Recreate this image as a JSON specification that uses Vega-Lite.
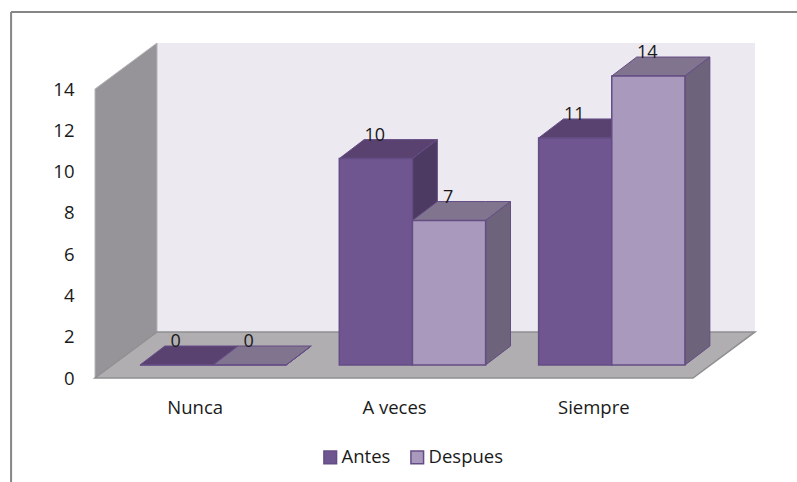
{
"$schema":"https://vega.github.io/schema/vega-lite/v6.json",
"width":660,"height":335,
"autosize":{"type":"none"},
"padding":{"left":95,"top":43,"right":42,"bottom":104},
"background":"white",
"config":{"view":{"stroke":null},"font":"Open Sans"},
"data":{"values":[
{"cat":"Nunca","serie":"Antes","value":0},
{"cat":"A veces","serie":"Antes","value":10},
{"cat":"Siempre","serie":"Antes","value":11},
{"cat":"Nunca","serie":"Despues","value":0},
{"cat":"A veces","serie":"Despues","value":7},
{"cat":"Siempre","serie":"Despues","value":14}
]},
"transform":[
{"calculate":"indexof(['Nunca','A veces','Siempre'],datum.cat)","as":"i"},
{"calculate":"datum.serie=='Antes'?0:1","as":"s"},
{"calculate":"datum.i+0.2255+datum.s*0.367","as":"xl"},
{"calculate":"datum.xl+0.367","as":"xr"},
{"calculate":"datum.value+0.63","as":"t"}
],
"encoding":{
"x":{"type":"quantitative","title":null,"scale":{"domain":[0,3.311],"nice":false,"zero":false}},
"y":{"type":"quantitative","title":null,"scale":{"domain":[0,16.23],"nice":false,"zero":false}}
},
"layer":[
{"data":{"values":[{"a":0}]},"transform":[],"mark":{"type":"rect","fill":"#ece9f1"},
 "encoding":{"x":{"datum":0.311,"type":"quantitative","title":null,"axis":{"values":[0.5,1.5,2.5],"title":null,"domain":false,"ticks":false,"grid":false,"labelFontSize":18.5,"labelColor":"#1a1a1a","labelPadding":20,"labelExpr":"datum.value==0.5?'Nunca':datum.value==1.5?'A veces':'Siempre'"}},"x2":{"datum":3.311},
 "y":{"datum":2.23,"type":"quantitative","title":null,"axis":{"values":[0,2,4,6,8,10,12,14],"title":null,"domain":false,"ticks":false,"grid":false,"labelFontSize":18.5,"labelColor":"#1a1a1a","labelPadding":21}},"y2":{"datum":16.23}}},
{"data":{"values":[{"a":0}]},
 "transform":[{"calculate":"[0,0.311]","as":"px"},{"calculate":"[0,2.23]","as":"lo"},{"calculate":"[14,16.23]","as":"hi"},{"flatten":["px","lo","hi"]}],
 "mark":{"type":"area","fill":"#969498","stroke":"#b5b3b8","strokeWidth":1},
 "encoding":{"x":{"field":"px","type":"quantitative","title":null},"y":{"field":"lo","type":"quantitative","title":null},"y2":{"field":"hi","title":null}}},
{"data":{"values":[{"a":0}]},
 "transform":[{"calculate":"[0,0.311,3,3.311]","as":"px"},{"calculate":"[0,0,0,2.23]","as":"lo"},{"calculate":"[0,2.23,2.23,2.23]","as":"hi"},{"flatten":["px","lo","hi"]}],
 "mark":{"type":"area","fill":"#b1aeb1","stroke":"#8f8e90","strokeWidth":1.5},
 "encoding":{"x":{"field":"px","type":"quantitative","title":null},"y":{"field":"lo","type":"quantitative","title":null},"y2":{"field":"hi","title":null}}},
{"transform":[
 {"calculate":"[datum.xl,datum.xl+0.125,datum.xr,datum.xr+0.125,datum.xr,datum.xr+0.125]","as":"px"},
 {"calculate":"[datum.t,datum.t,datum.t,datum.t+0.92,0.63,1.55]","as":"lo"},
 {"calculate":"[datum.t,datum.t+0.92,datum.t+0.92,datum.t+0.92,datum.t,datum.t+0.92]","as":"hi"},
 {"calculate":"['Cara superior','Cara superior','Cara superior','Cara superior','Cara lateral','Cara lateral']","as":"face"},
 {"flatten":["px","lo","hi","face"]},
 {"calculate":"datum.serie+' '+datum.face","as":"fk"},
 {"calculate":"datum.cat+' '+datum.fk","as":"id"}
 ],
 "mark":{"type":"area","strokeWidth":1},
 "encoding":{"x":{"field":"px","type":"quantitative","title":null},"y":{"field":"lo","type":"quantitative","title":null},"y2":{"field":"hi","title":null},
 "detail":{"field":"id"},
 "fill":{"field":"fk","scale":{"domain":["Antes Cara superior","Antes Cara lateral","Despues Cara superior","Despues Cara lateral"],"range":["#5a4270","#4d3a63","#81748f","#6d647c"]},"legend":null},
 "stroke":{"value":"#644d85"}}},
{"mark":{"type":"rect","strokeWidth":1.5,"stroke":"#644d85"},
 "encoding":{"x":{"field":"xl","type":"quantitative","title":null},"x2":{"field":"xr","title":null},"y":{"field":"t","type":"quantitative","title":null},"y2":{"datum":0.63},
 "color":{"field":"serie","type":"nominal","scale":{"domain":["Antes","Despues"],"range":["#6f5690","#a99abd"]},
  "legend":{"title":null,"orient":"none","legendX":226,"legendY":405,"direction":"horizontal","symbolType":"square","symbolSize":160,"symbolStrokeColor":"#644d85","symbolStrokeWidth":1.5,"labelFontSize":18.5,"labelColor":"#1a1a1a","columnPadding":16,"labelOffset":2}}}},
{"mark":{"type":"text","fontSize":18,"color":"#1a1a1a","dy":-4},
 "encoding":{"x":{"field":"xm","type":"quantitative","title":null},"y":{"field":"yt","type":"quantitative","title":null},"text":{"field":"value","type":"quantitative"}},
 "transform":[{"calculate":"(datum.xl+datum.xr)/2-0.005","as":"xm"},{"calculate":"datum.t+0.92","as":"yt"}]},
{"data":{"values":[{"a":0}]},"transform":[],"mark":{"type":"rule","color":"#868686","strokeWidth":2},
 "encoding":{"x":{"datum":-0.421,"type":"quantitative","title":null},"x2":{"datum":3.53},"y":{"datum":17.73,"type":"quantitative","title":null}}},
{"data":{"values":[{"a":0}]},"transform":[],"mark":{"type":"rule","color":"#868686","strokeWidth":2},
 "encoding":{"x":{"datum":-0.421,"type":"quantitative","title":null},"y":{"datum":17.73,"type":"quantitative","title":null},"y2":{"datum":-5.5}}}
]
}
